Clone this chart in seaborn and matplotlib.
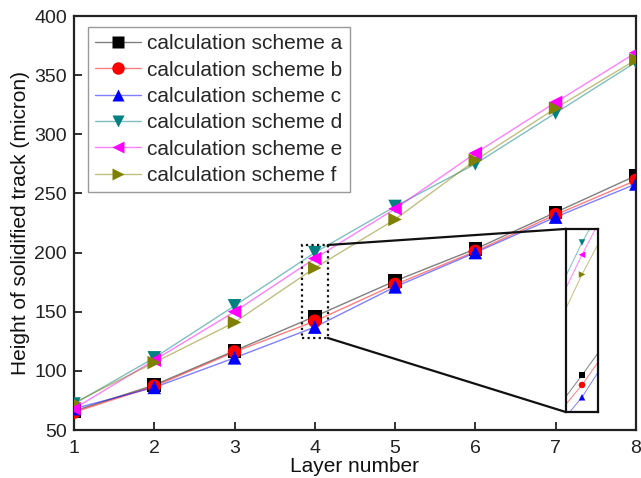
import matplotlib
matplotlib.use("Agg")
import matplotlib.pyplot as plt
import seaborn as sns
import pandas as pd
from matplotlib.lines import Line2D
from matplotlib.patches import Rectangle

layers = [1, 2, 3, 4, 5, 6, 7, 8]
scheme_a = [66, 88, 117, 146, 176, 203, 234, 265]
scheme_b = [65, 87, 116, 142, 173, 201, 232, 261]
scheme_c = [68, 86, 111, 137, 171, 200, 230, 258]
scheme_d = [72, 111, 155, 200, 239, 275, 318, 361]
scheme_e = [68, 109, 150, 195, 237, 284, 327, 369]
scheme_f = [73, 107, 141, 187, 228, 278, 322, 363]
names = ["calculation scheme a", "calculation scheme b", "calculation scheme c",
         "calculation scheme d", "calculation scheme e", "calculation scheme f"]
series = [scheme_a, scheme_b, scheme_c, scheme_d, scheme_e, scheme_f]
colors = ["#000000", "#ff0000", "#0000ff", "#008080", "#ff00ff", "#808000"]
markers = ["s", "o", "^", "v", "<", ">"]

rows = []
for n, s in zip(names, series):
    for x, y in zip(layers, s):
        rows.append({"layer": x, "height": y, "scheme": n})
df = pd.DataFrame(rows)

sns.set_theme(style="ticks")
plt.rcParams['font.family'] = ['Liberation Sans', 'DejaVu Sans']

fig = plt.figure(figsize=(6.41, 4.78), dpi=100)
ax = fig.add_axes([0.1154, 0.1004, 0.8766, 0.8661])

pal = dict(zip(names, colors))
mk = dict(zip(names, markers))

def draw(axis, ms, lw):
    for n in names:
        sub = df[df.scheme == n]
        sns.lineplot(data=sub, x="layer", y="height", ax=axis, color=pal[n],
                     alpha=0.5, lw=lw, legend=False)
        sns.scatterplot(data=sub, x="layer", y="height", ax=axis, color=pal[n],
                        marker=mk[n], s=ms, edgecolor="none", legend=False, zorder=3)

draw(ax, 95, 1.0)
ax.set_xlim(1, 8)
ax.set_ylim(50, 400)
ax.set_xticks(layers)
ax.set_yticks([50, 100, 150, 200, 250, 300, 350, 400])
ax.tick_params(direction="in", length=6, width=1.3, labelsize=14, colors="#222222",
               top=False, right=False)
ax.tick_params(axis="x", pad=7)
ax.tick_params(axis="y", pad=5)
ax.set_xlabel("Layer number", fontsize=15, color="#111111", labelpad=0)
ax.set_ylabel("Height of solidified track (micron)", fontsize=15, color="#111111", labelpad=3)
for sp in ax.spines.values():
    sp.set_linewidth(1.6)
    sp.set_color("#222222")

handles = []
for c, m in zip(colors, markers):
    ln = Line2D([0], [0], color=c, lw=1, alpha=0.5)
    mkh = Line2D([0], [0], color=c, lw=0, marker=m, markersize=9,
                 markerfacecolor=c, markeredgecolor="none")
    handles.append((ln, mkh))
leg = ax.legend(handles, names, loc="upper left", bbox_to_anchor=(0.025, 0.973),
                borderaxespad=0, fontsize=15, frameon=True, fancybox=False,
                edgecolor="#999999", framealpha=1, labelspacing=0.35,
                handlelength=2.2, handletextpad=0.3, borderpad=0.35)
leg.get_frame().set_linewidth(1.0)

# dotted rectangle around layer 4
ax.add_patch(Rectangle((3.839, 127.8), 4.163 - 3.839, 206.4 - 127.8, fill=False,
                       ls=(0, (1, 1.5)), lw=1.6, ec="#111111", zorder=4))
ax.plot([4.163, 7.127], [206.4, 220], color="#111111", lw=1.6, zorder=4)
ax.plot([4.163, 7.127], [127.8, 65.2], color="#111111", lw=1.6, zorder=4)

# magnified inset
ins = fig.add_axes([566 / 641, 1 - 412 / 478, 32 / 641, 183 / 478])
draw(ins, 22, 0.7)
ins.set_xlim(3.7, 4.3)
ins.set_ylim(131, 205.5)
ins.set_xticks([])
ins.set_yticks([])
ins.set_xlabel("")
ins.set_ylabel("")
for sp in ins.spines.values():
    sp.set_linewidth(1.6)
    sp.set_color("#111111")
    sp.set_visible(True)

fig.savefig("out.png", dpi=100)
